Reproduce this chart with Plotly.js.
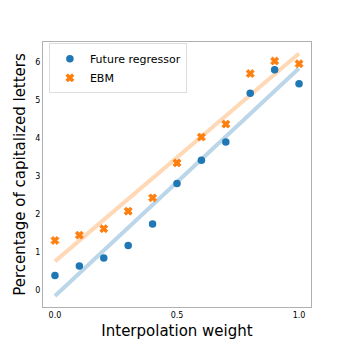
<!DOCTYPE html>
<html>
<head>
<meta charset="utf-8">
<script src="https://cdn.plot.ly/plotly-3.0.1.min.js"></script>
<style>html,body{margin:0;padding:0;background:#fff;}#chart{width:346px;height:346px;}</style>
</head>
<body>
<div id="chart"></div>
<script>
const weights = [0.0, 0.1, 0.2, 0.3, 0.4, 0.5, 0.6, 0.7, 0.8, 0.9, 1.0];
const futureRegressor = [0.39, 0.64, 0.85, 1.18, 1.74, 2.81, 3.42, 3.90, 5.18, 5.80, 5.43];
const ebm = [1.31, 1.45, 1.62, 2.08, 2.43, 3.35, 4.03, 4.37, 5.70, 6.03, 5.96];
const fitX = [0.0, 1.0];
const futureFit = [-0.15, 5.84];
const ebmFit = [0.76, 6.23];
const xTickVals = [0.0, 0.5, 1.0];
const xTickText = ["0.0", "0.5", "1.0"];
const yTickVals = [0, 1, 2, 3, 4, 5, 6];

const blue = "#1f77b4", orange = "#ff7f0e";
const data = [
  {x: fitX, y: futureFit, mode: "lines", line: {color: "rgba(31,119,180,0.3)", width: 4}, showlegend: false, hoverinfo: "skip"},
  {x: fitX, y: ebmFit, mode: "lines", line: {color: "rgba(255,127,14,0.3)", width: 4}, showlegend: false, hoverinfo: "skip"},
  {x: weights, y: futureRegressor, mode: "markers", name: "Future regressor", marker: {color: blue, size: 7.5, symbol: "circle"}},
  {x: weights, y: ebm, mode: "markers", name: "EBM", marker: {color: orange, size: 7, symbol: "x", line: {color: orange, width: 1}}}
];
const layout = {
  width: 346, height: 346,
  margin: {l: 43, r: 35, t: 42, b: 39},
  paper_bgcolor: "#fff", plot_bgcolor: "#fff",
  font: {family: "DejaVu Sans", color: "#000"},
  showlegend: true,
  legend: {x: 0.022, y: 0.995, xanchor: "left", yanchor: "top", bgcolor: "rgba(255,255,255,0.8)",
           bordercolor: "#dddddd", borderwidth: 1, font: {size: 11, family: "DejaVu Sans"}, tracegroupgap: 0},
  xaxis: {range: [-0.049, 1.049], tickvals: xTickVals, ticktext: xTickText, ticks: "", showgrid: false, zeroline: false,
          showline: true, mirror: true, linecolor: "#b0b0b0", linewidth: 1, tickfont: {size: 8},
          title: {text: "Interpolation weight", font: {size: 15}, standoff: 6}},
  yaxis: {range: [-0.44, 6.53], tickvals: yTickVals, ticks: "", showgrid: false, zeroline: false,
          showline: true, mirror: true, linecolor: "#b0b0b0", linewidth: 1, tickfont: {size: 8},
          title: {text: "Percentage of capitalized letters", font: {size: 15}, standoff: 6}}
};
Plotly.newPlot("chart", data, layout, {displayModeBar: false, staticPlot: true});
</script>
</body>
</html>
